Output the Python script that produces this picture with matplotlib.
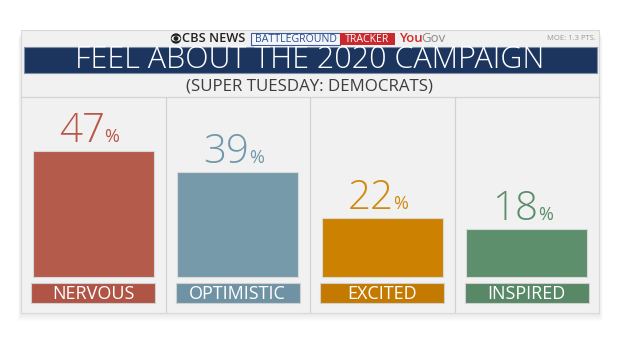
import matplotlib.pyplot as plt
from matplotlib.patches import Rectangle, Circle, Ellipse

categories = ["NERVOUS", "OPTIMISTIC", "EXCITED", "INSPIRED"]
values = [47, 39, 22, 18]
bar_colors = ["#b55b4b", "#779aab", "#cc8200", "#5e8f6c"]
label_colors = ["#b05446", "#6f93a4", "#c47a00", "#588866"]
value_colors = ["#b8584a", "#6f98aa", "#d08a10", "#5a8d6a"]

title = "FEEL ABOUT THE 2020 CAMPAIGN"
subtitle = "(SUPER TUESDAY: DEMOCRATS)"
moe = "MOE: 1.3 PTS."

W, H = 620, 349
FONT = ["Open Sans", "DejaVu Sans"]

fig = plt.figure(figsize=(W / 100, H / 100), dpi=100)
fig.patch.set_facecolor("white")

# background layer in pixel coordinates (origin top-left)
bg = fig.add_axes([0, 0, 1, 1])
bg.set_xlim(0, W)
bg.set_ylim(H, 0)
bg.axis("off")

# soft drop shadow under the panel
for i in range(8):
    bg.add_patch(Rectangle((21 - i * 0.5, 31 + i), 578 + i, 283, facecolor="black",
                           edgecolor="none", alpha=0.012))
bg.add_patch(Rectangle((21, 30), 578, 283, facecolor="#f1f1f1", edgecolor="#d9d9d9", lw=0.8))

# header: logo row
bg.add_patch(Circle((176, 38.5), 5.2, facecolor="#222222", edgecolor="none"))
bg.add_patch(Ellipse((176, 38.5), 9, 5.5, facecolor="#f1f1f1", edgecolor="none"))
bg.add_patch(Circle((176, 38.5), 2.4, facecolor="#222222", edgecolor="none"))
bg.text(182, 39, "CBS NEWS", fontsize=9.2, color="#222222", family=FONT,
        fontweight="semibold", va="center", ha="left")
bg.add_patch(Rectangle((251, 32.5), 89, 12, facecolor="#f4f6fa", edgecolor="#3a5c9a", lw=0.8))
bg.text(295.5, 39, "BATTLEGROUND", fontsize=7.6, color="#2b4f8f", family=FONT,
        va="center", ha="center")
bg.add_patch(Rectangle((340, 32.5), 55, 12, facecolor="#c8282e", edgecolor="none"))
bg.text(367.5, 39, "TRACKER", fontsize=7.6, color="white", family=FONT,
        va="center", ha="center")
bg.text(399, 39, "You", fontsize=9.5, color="#d12a2a", family=FONT,
        fontweight="semibold", va="center", ha="left")
bg.text(421, 39, "Gov", fontsize=9.5, color="#8a8a8a", family=FONT,
        va="center", ha="left")
bg.text(596, 39, moe, fontsize=5.5, color="#9a9a9a", family=FONT,
        va="center", ha="right")

# title band
bg.add_patch(Rectangle((24, 47), 573, 26, facecolor="#1c355f", edgecolor="#7f8ea8", lw=0.8))
bg.text(310, 60.5, title, fontsize=22, color="white", family=FONT,
        fontweight="light", va="center", ha="center")
bg.text(310, 86.5, subtitle, fontsize=12.2, color="#3d3d3d", family=FONT,
        va="center", ha="center")
bg.plot([21, 599], [96.5, 96.5], color="#d4d4d4", lw=0.9)

# bar area: y=0 sits on the bar baseline, 2.68 px per percentage point
px_per_pt = 2.68
base_px, top_px, bottom_px = 277, 97, 313
ax = fig.add_axes([21 / W, (H - bottom_px) / H, 578 / W, (bottom_px - top_px) / H])
ax.set_xlim(-0.5, len(categories) - 0.5)
ax.set_ylim(-(bottom_px - base_px) / px_per_pt, (base_px - top_px) / px_per_pt)
ax.axis("off")

x = list(range(len(categories)))
bar_w = 0.84
ax.bar(x, values, width=bar_w, color=bar_colors, edgecolor="#d9d9d9", linewidth=0.8, zorder=3)

for xi in [0.5, 1.5, 2.5]:
    ax.axvline(xi, color="#d2d2d2", lw=0.9, zorder=1)

# category label strips below the bars
lab_top = -(282.7 - base_px) / px_per_pt
lab_bot = -(303.3 - base_px) / px_per_pt
for xi, name, c in zip(x, categories, label_colors):
    ax.add_patch(Rectangle((xi - bar_w / 2 - 0.01, lab_bot), bar_w + 0.02, lab_top - lab_bot,
                           facecolor=c, edgecolor="#d0d0d0", lw=0.8, zorder=3))
    ax.text(xi, (lab_top + lab_bot) / 2 - 0.2, name, fontsize=13, color="white",
            family=FONT, va="center", ha="center", zorder=4)

# value labels: big number plus a smaller percent sign
gap = 9 / px_per_pt
for xi, v, c in zip(x, values, value_colors):
    ax.text(xi + 0.08, v + gap, f"{v}", fontsize=29, color=c, family=FONT,
            fontweight="light", ha="right", va="baseline", zorder=4)
    ax.text(xi + 0.078, v + gap, "%", fontsize=13, color=c, family=FONT,
            ha="left", va="baseline", zorder=4)

fig.savefig("out.png", dpi=100, facecolor="white")
